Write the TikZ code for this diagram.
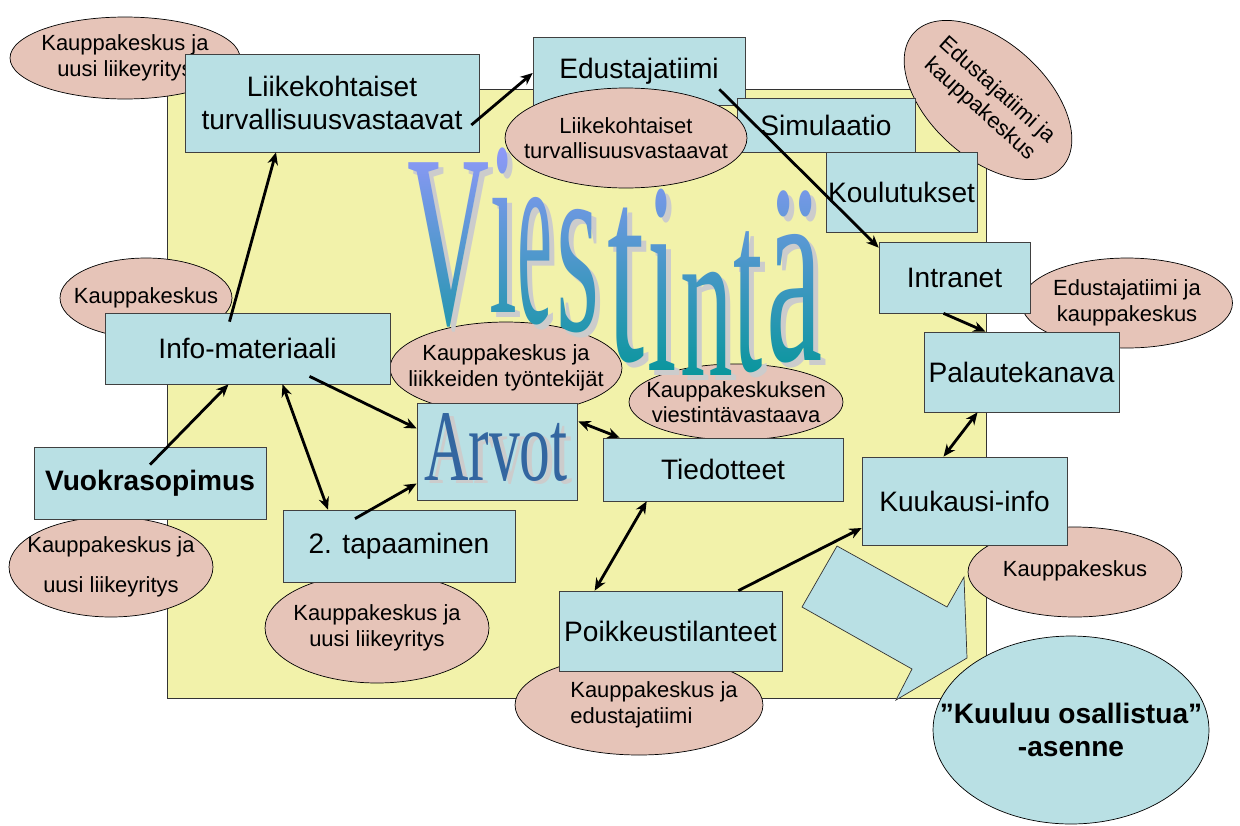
\documentclass[tikz,border=0pt]{standalone}
\usepackage{fontspec}
\setmainfont{Liberation Sans}
\newfontfamily\artfamily{Liberation Serif}
\usetikzlibrary{shapes.geometric,calc,arrows.meta,fadings}

\definecolor{boxblue}{RGB}{185,224,228}
\definecolor{notepink}{RGB}{230,196,184}
\definecolor{padyellow}{RGB}{242,242,170}
\definecolor{arttop}{RGB}{153,153,255}
\definecolor{artbottom}{RGB}{0,150,150}
\definecolor{artblue}{RGB}{51,102,160}

% the letters of the word art, one by one: x, baseline, xscale, yscale
\newcommand\viestintaword[2]{%
  \foreach \lx/\ly/\sx/\sy/\ch in {449/323/1.08/2.33/V, 503/312/0.95/2.36/i,
      535.5/322/0.75/2.52/e, 578.5/330/1.05/2.44/s, 626.5/360/1.27/2.57/t,
      662/370/1.0/2.6/i, 706.5/375/1.0/2.08/n, 748/370/1.0/2.34/t, 795/360/1.2/2.55/ä}
    \node[anchor=base, inner sep=0pt, font=\artfamily\fontsize{60}{60}\selectfont, #1]
      at (\lx+#2,\ly+#2) {\scalebox{\sx}[\sy]{\ch}};}

\begin{tikzfadingfrompicture}[name=viestinta, x=0.02cm, y=-0.02cm]
  \path (400,130) rectangle (840,390);
  \viestintaword{text=transparent!0}{0}
\end{tikzfadingfrompicture}

\begin{document}
\begin{tikzpicture}[x=0.02cm, y=-0.02cm,
        box/.style={rectangle, draw=black!75, fill=boxblue, align=center, inner sep=0pt,
          font=\fontsize{16}{19}\selectfont},
        note/.style={ellipse, draw=black, fill=notepink, align=center, inner sep=-25pt,
          font=\fontsize{12.5}{14.6}\selectfont},
        arvotart/.style={anchor=base, inner sep=0pt, font=\artfamily\fontsize{35}{35}\selectfont}
    ]
    \useasboundingbox (0,0) rectangle (1240,825);
    \fill[white] (0,0) rectangle (1240,825);
    \draw[fill=padyellow, draw=black!80] (167,89) rectangle (986,698);

    % notes behind the boxes
    \node[note, minimum width=4.6cm, minimum height=1.64cm] (kaup1) at (125,58) {Kauppakeskus ja\\uusi liikeyritys};
    \node[note, minimum width=3.44cm, minimum height=1.6cm] (kaup2) at (146,298) {Kauppakeskus};
    \node[note, minimum width=4.64cm, minimum height=1.84cm] (tyontek) at (506,368) {Kauppakeskus ja\\liikkeiden työntekijät};
    \node[note, minimum width=4.28cm, minimum height=1.52cm] (viestvast) at (736,402) {Kauppakeskuksen\\viestintävastaava};
    \node[note, minimum width=4.22cm, minimum height=1.8cm] (edukaup) at (1127,303) {Edustajatiimi ja\\kauppakeskus};
    \node[note, minimum width=4.28cm, minimum height=1.8cm] (kaup3) at (1075,572) {\raisebox{4pt}{Kauppakeskus}};
    \node[note, minimum width=4.08cm, minimum height=2.0cm] (kaup4) at (111,567) {Kauppakeskus ja\\[8pt]uusi liikeyritys};
    \node[note, minimum width=4.48cm, minimum height=2.2cm] (kaup5) at (377,628) {Kauppakeskus ja\\uusi liikeyritys};
    \node[note, minimum width=4.96cm, minimum height=2.0cm, align=left] (kaupedu) at (639,705)
      {\hspace*{0.6cm}Kauppakeskus ja\\\hspace*{0.6cm}edustajatiimi};
    \node[note, minimum width=4.0cm, minimum height=2.32cm, rotate=-42] (edukaup2) at (988,100) {Edustajatiimi ja\\kauppakeskus};

    % Viestintä: shadow, then the colour run through the letters
    \viestintaword{text=gray!40}{5}
    \shade[top color=arttop, bottom color=artbottom, path fading=viestinta, fit fading=false,
      fading transform={shift={(620,260)}}] (400,130) rectangle (840,390);

    % boxes
    \node[box, minimum width=5.88cm, minimum height=1.96cm] (liike) at (332,103) {Liikekohtaiset\\turvallisuusvastaavat};
    \node[box, minimum width=4.24cm, minimum height=1.36cm] (edust) at (639,71) {Edustajatiimi};
    \node[box, minimum width=3.56cm, minimum height=1.08cm] (simul) at (826,125) {Simulaatio};
    \node[note, minimum width=4.84cm, minimum height=2.0cm] (liikenote) at (626,138) {Liikekohtaiset\\turvallisuusvastaavat};
    \node[box, minimum width=3.02cm, minimum height=1.6cm] (koulu) at (901.5,192) {Koulutukset};
    \node[box, minimum width=3.02cm, minimum height=1.42cm] (intra) at (954.5,277.5) {Intranet};
    \node[box, minimum width=3.9cm, minimum height=1.6cm] (palaute) at (1021.5,372) {Palautekanava};
    \node[box, minimum width=4.1cm, minimum height=1.76cm] (kuukausi) at (964.5,501) {Kuukausi-info};
    \node[box, minimum width=5.7cm, minimum height=1.42cm] (info) at (247.5,348.5) {Info-materiaali};
    \node[box, minimum width=4.64cm, minimum height=1.44cm, font=\fontsize{16}{19}\selectfont\bfseries] (vuokra) at (150,483) {Vuokrasopimus};
    \node[box, minimum width=4.64cm, minimum height=1.44cm] (tapaam) at (399,546) {2. tapaaminen};
    \node[box, minimum width=3.2cm, minimum height=1.94cm] (arvot) at (497,451.5) {};
    \node[arvotart, text=gray!40] (arvotshadow) at (501,483) {\scalebox{1}[1.65]{Arvot}};
    \node[arvotart, text=artblue] (arvottext) at (496,480) {\scalebox{1}[1.65]{Arvot}};
    \node[box, minimum width=4.8cm, minimum height=1.26cm] (tiedot) at (723,469.5) {Tiedotteet};
    \node[box, minimum width=4.46cm, minimum height=1.6cm] (poikk) at (670.5,631) {Poikkeustilanteet};

    % block arrow and attitude
    \draw[fill=boxblue, draw=black!80] (837,546) -- (947,607) -- (964,577) -- (967,658)
      -- (896,700) -- (912,669) -- (802,607) -- cycle;
    \node[ellipse, draw=black, fill=boxblue, inner sep=-25pt, align=center, minimum width=5.52cm,
      minimum height=3.76cm, font=\fontsize{16}{19}\selectfont\bfseries] (asenne) at (1071,730)
      {”Kuuluu osallistua”\\-asenne};

    \begin{scope}[line width=1.6pt, >={Stealth[length=7pt,width=6pt]}, ->]
    \draw ($(info.north)+(-18,9)$) -- ($(liike.south)+(-56,0)$);
    \draw ($(vuokra.north)+(0,18)$) -- ($(info.south)+(-19,0)$);
    \draw[<->] ($(info.south)+(35,0)$) -- ($(tapaam.north)+(-71,0)$);
    \draw ($(info.south)+(62,-8)$) -- ($(arvot.west)+(0,-23)$);
    \draw ($(tapaam.north)+(-44,9)$) -- ($(arvot.west)+(0,32)$);
    \draw[<->] ($(arvot.east)+(1,-30)$) -- ($(tiedot.north west)+(17,0)$);
    \draw[<->] ($(tiedot.south west)+(44,0)$) -- ($(poikk.north west)+(36,0)$);
    \draw ($(poikk.north east)+(-44,0)$) -- ($(kuukausi.west)+(0,27)$);
    \draw[<->] ($(kuukausi.north)+(-21,0)$) -- ($(palaute.south)+(-44,0)$);
    \draw ($(intra.south)+(-11,0)$) -- ($(palaute.north)+(-36,0)$);
    \draw ($(edust.south east)+(-26,-16)$) -- ($(intra.north west)+(0,6)$);
    \draw ($(liike.east)+(-8,22)$) -- ($(edust.west)+(0,2)$);
    \end{scope}
\end{tikzpicture}
\end{document}
